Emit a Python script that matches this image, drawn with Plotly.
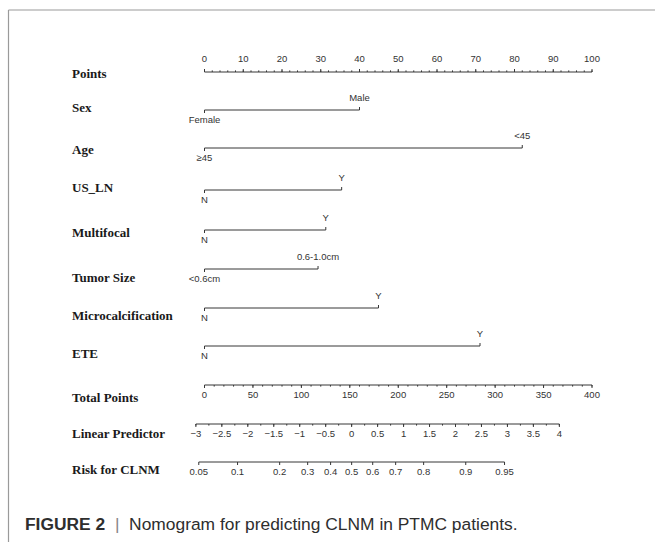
import numpy as np
import plotly.graph_objects as go

# ---------------- data ----------------
VARIABLES = ["Sex", "Age", "US_LN", "Multifocal", "Tumor Size", "Microcalcification", "ETE"]
LEVEL_LOW = ["Female", "≥45", "N", "N", "<0.6cm", "N", "N"]
LEVEL_HIGH = ["Male", "<45", "Y", "Y", "0.6-1.0cm", "Y", "Y"]
LEVEL_POINTS = [40, 82, 35.4, 31.3, 29.3, 44.9, 71.1]

POINTS_TICKS = list(range(0, 101, 10))
POINTS_MINOR = list(range(0, 101, 2))
TOTAL_TICKS = list(range(0, 401, 50))
TOTAL_MINOR = list(range(0, 401, 10))
LP_TICKS = [-3, -2.5, -2, -1.5, -1, -0.5, 0, 0.5, 1, 1.5, 2, 2.5, 3, 3.5, 4]
LP_MINOR = list(np.arange(-3, 4.001, 0.25))
RISK_TICKS = [0.05, 0.1, 0.2, 0.3, 0.4, 0.5, 0.6, 0.7, 0.8, 0.9, 0.95]

# linear predictor = LP_INTERCEPT + LP_PER_POINT * total points
LP_INTERCEPT = -2.834
LP_PER_POINT = 0.018657

# ---------------- layout constants ----------------
W, H = 655, 542
PX0, PX_PER_PT = 204.5, 3.875          # pixel position of 0 points, pixels per point
ROW_POINTS = 72
ROW_VARS = [110, 148, 190, 230, 269, 308, 346]
ROW_TOTAL = 385
ROW_LP = 424
ROW_RISK = 462
LABEL_Y = {"Points": 73, "Sex": 107, "Age": 149, "US_LN": 187, "Multifocal": 232,
           "Tumor Size": 277, "Microcalcification": 315, "ETE": 353,
           "Total Points": 397, "Linear Predictor": 433, "Risk for CLNM": 469}
LINE_COLOR = "#363636"
TEXT_COLOR = "#333333"
TICK_FONT = dict(family="Liberation Sans, Arial", size=9.5, color=TEXT_COLOR)

def tp_to_pts(tp):
    return np.asarray(tp, dtype=float) / 4.0

def lp_to_pts(lp):
    return tp_to_pts((np.asarray(lp, dtype=float) - LP_INTERCEPT) / LP_PER_POINT)

def risk_to_pts(p):
    p = np.asarray(p, dtype=float)
    return lp_to_pts(np.log(p / (1 - p)))

fig = go.Figure()

def add_segments(xs0, xs1, ys0, ys1, width=1):
    X, Y = [], []
    for a, b, c, d in zip(xs0, xs1, ys0, ys1):
        X += [a, b, None]
        Y += [c, d, None]
    fig.add_trace(go.Scatter(x=X, y=Y, mode="lines", hoverinfo="skip",
                             line=dict(color=LINE_COLOR, width=width), showlegend=False))

def add_text(xs, ys, texts):
    fig.add_trace(go.Scatter(x=list(xs), y=list(ys), text=list(texts), mode="text",
                             textposition="middle center", textfont=TICK_FONT,
                             hoverinfo="skip", showlegend=False))

def add_axis(pos, major, minor, labels, row, direction, label_off, major_len=3, minor_len=1.6):
    pos = list(pos)
    add_segments([min(pos)], [max(pos)], [row], [row])
    add_segments(major, major, [row] * len(major), [row + direction * major_len] * len(major))
    if minor is not None and len(minor):
        add_segments(minor, minor, [row] * len(minor), [row + direction * minor_len] * len(minor))
    add_text(major, [row + label_off] * len(major), labels)

def fmt(v):
    s = ("%g" % v)
    return s.replace("-", "−")

# Points axis (ticks up, labels above)
add_axis(POINTS_TICKS, POINTS_TICKS, POINTS_MINOR, [str(v) for v in POINTS_TICKS],
         ROW_POINTS, -1, -12)

# variable rows
for name, lo, hi, pts, row in zip(VARIABLES, LEVEL_LOW, LEVEL_HIGH, LEVEL_POINTS, ROW_VARS):
    add_segments([0], [pts], [row], [row])
    add_segments([0, pts], [0, pts], [row, row], [row + 3, row - 3])
    add_text([0], [row + 11], [lo])
    add_text([pts], [row - 11.5], [hi])

# Total points
add_axis(tp_to_pts(TOTAL_TICKS), tp_to_pts(TOTAL_TICKS), tp_to_pts(TOTAL_MINOR),
         [str(v) for v in TOTAL_TICKS], ROW_TOTAL, 1, 11)

# Linear predictor
add_axis(lp_to_pts(LP_TICKS), lp_to_pts(LP_TICKS), lp_to_pts(LP_MINOR),
         [fmt(v) for v in LP_TICKS], ROW_LP, 1, 11)

# Risk
add_axis(risk_to_pts(RISK_TICKS), risk_to_pts(RISK_TICKS), None,
         [fmt(v) for v in RISK_TICKS], ROW_RISK, 1, 11)

# left row labels
annotations = []
for name, yv in LABEL_Y.items():
    annotations.append(dict(x=70 / W, y=yv, xref="paper", yref="y", text="<b>" + name + "</b>",
                            showarrow=False, xanchor="left", yanchor="middle",
                            font=dict(family="Liberation Serif, Times New Roman", size=13,
                                      color="#1a1a1a")))

# caption
annotations.append(dict(x=22.5 / W, y=1 - 524 / H, xref="paper", yref="paper",
                        text="<b>FIGURE 2</b>&nbsp; <span style='color:#888'>|</span> &nbsp;Nomogram for predicting CLNM in PTMC patients.",
                        showarrow=False, xanchor="left", yanchor="middle",
                        font=dict(family="Liberation Sans, Arial", size=17.4, color="#2e2e2e")))

shapes = [
    dict(type="line", xref="paper", yref="paper", x0=8.5 / W, x1=1, y0=1 - 10 / H, y1=1 - 10 / H,
         line=dict(color="#9a9a9a", width=1.2)),
    dict(type="line", xref="paper", yref="paper", x0=8.5 / W, x1=8.5 / W, y0=0, y1=1 - 10 / H,
         line=dict(color="#9a9a9a", width=1.2)),
]

xmin = (0 - PX0) / PX_PER_PT
xmax = (W - PX0) / PX_PER_PT
fig.update_layout(
    width=W, height=H, margin=dict(l=0, r=0, t=0, b=0),
    paper_bgcolor="white", plot_bgcolor="white",
    xaxis=dict(range=[xmin, xmax], visible=False, fixedrange=True),
    yaxis=dict(range=[H, 0], visible=False, fixedrange=True),
    annotations=annotations, shapes=shapes, showlegend=False,
)

fig.write_html("out.html", config={"displayModeBar": False},
               post_script="document.body.style.margin='0';document.body.style.overflow='hidden';")
